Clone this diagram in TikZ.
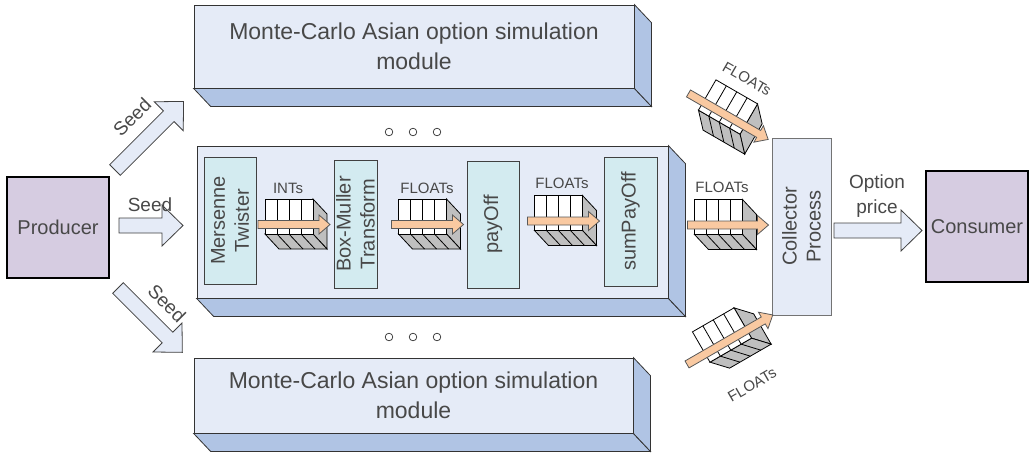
\documentclass[tikz,border=0pt]{standalone}
\usepackage{fontspec}
\setmainfont{Liberation Sans}
\usetikzlibrary{positioning, calc}

\definecolor{modfront}{RGB}{229,235,247}
\definecolor{modside}{RGB}{176,196,228}
\definecolor{stagecol}{RGB}{211,235,240}
\definecolor{endcol}{RGB}{214,204,225}
\definecolor{peach}{RGB}{249,201,161}
\definecolor{txt}{RGB}{72,72,72}

\tikzset{
  module/.style  = {draw=black!80, fill=modfront, inner sep=0pt,
                    align=center, text=txt,
                    font=\fontsize{23}{30}\selectfont},
  modside/.style = {draw=black!80, fill=modside},
  stage/.style   = {draw=black!75, fill=stagecol, rotate=90,
                    inner sep=0pt, align=center, text=txt,
                    font=\fontsize{20}{24}\selectfont},
  endbox/.style  = {draw=black, line width=2.5pt, fill=endcol,
                    inner sep=0pt, text=txt,
                    font=\fontsize{20}{24}\selectfont},
  collect/.style = {draw=black!55, fill=modfront, rotate=90,
                    inner sep=0pt, align=center, text=txt,
                    font=\fontsize{20}{24}\selectfont},
  seedarr/.style = {draw=black!75, fill=modfront},
  flowarr/.style = {draw=black!65, fill=peach},
  cell/.style    = {draw=black, fill=white},
  cellside/.style= {draw=black, fill=black!25},
  alabel/.style  = {inner sep=0pt, text=txt,
                    font=\fontsize{19}{25}\selectfont, align=center},
  qlabel/.style  = {inner sep=0pt, text=txt,
                    font=\fontsize{15}{18}\selectfont},
  dots/.style    = {draw=black!80, line width=0.7pt},
  % block arrow, argument = length
  pics/bigarrow/.style = {code={
    \draw[seedarr] (0,-7.5) -- ({#1-21},-7.5) -- ({#1-21},-20.5) -- (#1,0)
      -- ({#1-21},20.5) -- ({#1-21},7.5) -- (0,7.5) -- cycle;
  }},
  % FIFO buffer, arguments = start and tip of the flow arrow
  pics/fifo/.style 2 args = {code={
    \draw[cellside] (24,-17.5) -- (38,-2.5) -- (38,32.5) -- (24,17.5) -- cycle;
    \draw[cellside] (-24,17.5) -- (24,17.5) -- (38,32.5) -- (-10,32.5) -- cycle;
    \foreach \cx in {-12,0,12} \draw (\cx,17.5) -- ++(14,15);
    \draw[cell] (-24,-17.5) rectangle (24,17.5);
    \foreach \cx in {-12,0,12} \draw (\cx,-17.5) -- (\cx,17.5);
    \draw[flowarr] (#1,4) -- ({#2-11},4) -- ({#2-11},-1.5) -- (#2,8)
      -- ({#2-11},17.5) -- ({#2-11},12) -- (#1,12) -- cycle;
  }},
}

% depth faces of a module box
\newcommand\extrude[1]{%
  \draw[modside] (#1.south west) -- (#1.south east) -- ++(17,18)
    -- ($(#1.south west)+(17,18)$) -- cycle;
  \draw[modside] (#1.north east) -- ++(17,18)
    -- ($(#1.south east)+(17,18)$) -- (#1.south east) -- cycle;}

\begin{document}
\begin{tikzpicture}[x=1pt, y=-1pt, line width=0.8pt]
\useasboundingbox (0,0) rectangle (1034,456);

% ════════════════════════════════════════════
%  Producer and seed arrows
% ════════════════════════════════════════════
\node[endbox, minimum width=102, minimum height=101] (prod) at (58,227.5) {Producer};

\pic[rotate=45]  at (115,170)   {bigarrow=97};
\pic             at (119,225.5) {bigarrow=64};
\pic[rotate=-45] at (118,288)   {bigarrow=91};

\node[alabel, rotate=45]  (seed1) at (132,117) {Seed};
\node[alabel]             (seed2) at (150,205) {Seed};
\node[alabel, rotate=-45] (seed3) at (167,303) {Seed};

% ════════════════════════════════════════════
%  Simulation modules
% ════════════════════════════════════════════
\node[module, minimum width=440, minimum height=83] (modtop) at (414,46.5)
  {Monte-Carlo Asian option simulation\\module};
\extrude{modtop}

\node[module, minimum width=471, minimum height=152] (modmid) at (432.5,222) {};
\extrude{modmid}

\node[module, minimum width=439, minimum height=75] (modbot) at (413.5,395.5)
  {Monte-Carlo Asian option simulation\\module};
\extrude{modbot}

\foreach \dx in {389,413,437} {
  \draw[dots] (\dx,132) circle (3.8pt);
  \draw[dots] (\dx,337) circle (3.8pt);
}

% ── stages inside the middle module ──
\node[stage, minimum width=127, minimum height=52] (mt)  at (230,220.5) {Mersenne\\Twister};
\node[stage, minimum width=128, minimum height=43] (bm)  at (355.5,224) {Box-Muller\\Transform};
\node[stage, minimum width=127, minimum height=52] (po)  at (493,224.5) {payOff};
\node[stage, minimum width=129, minimum height=53] (spo) at (630.5,221.5) {sumPayOff};

\pic at (289,216.5) {fifo={-31}{41}};
\pic at (422.5,216.5) {fifo={-31}{41}};
\pic at (558.5,213) {fifo={-31}{41}};

\node[qlabel] (lint) at (288,188) {INTs};
\node[qlabel] (lfl1) at (427,188) {FLOATs};
\node[qlabel] (lfl2) at (562,183) {FLOATs};

% ════════════════════════════════════════════
%  Collector and consumer
% ════════════════════════════════════════════
\node[collect, minimum width=177, minimum height=59] (coll) at (801.5,226.5)
  {Collector\\Process};

\pic at (718.5,217) {fifo={-31}{50}};
\pic[rotate=-30] at (728,107) {fifo={-41}{51}};
\pic[rotate=30]  at (722,335) {fifo={-45}{54}};

\node[qlabel] (lfl3) at (722,187) {FLOATs};
\node[qlabel, rotate=-30] (lfl4) at (747,79)  {FLOATs};
\node[qlabel, rotate=30]  (lfl5) at (752,385) {FLOATs};

\pic at (834,230.5) {bigarrow=88};
\node[alabel] (price) at (877,196) {Option\\price};

\node[endbox, minimum width=102, minimum height=111] (cons) at (977,226.5) {Consumer};

\end{tikzpicture}
\end{document}
